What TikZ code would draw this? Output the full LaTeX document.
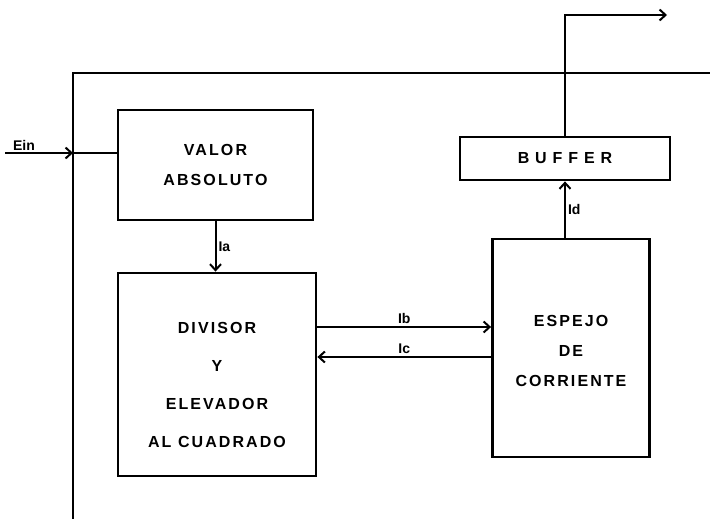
\documentclass[tikz,border=0pt]{standalone}
\usepackage{fontspec}
\setmainfont{Liberation Sans}
\newfontfamily\lettering[LetterSpace=13]{Liberation Sans Bold}
\newfontfamily\widelettering[LetterSpace=37]{Liberation Sans Bold}
\usetikzlibrary{arrows.meta,positioning}

\begin{document}
\begin{tikzpicture}[x=1pt,y=-1pt,
  every node/.style={font=\lettering\fontsize{16}{30}\selectfont},
  blockbox/.style={draw,line width=2.8pt,align=center,inner sep=0pt},
  tag/.style={font=\bfseries\fontsize{14}{16}\selectfont,inner sep=2pt},
  wire/.style={line width=2pt},
  sig/.style={wire,-{Straight Barb[length=6pt,width=11pt]}}]
\useasboundingbox (0,0) rectangle (710,519);
% marco del circuito
\draw[line width=2.8pt] (710,73) -- (73,73) -- (73,519);
% bloques
\node[blockbox,minimum width=195pt,minimum height=110pt] (valor) at (215.5,165) {VALOR\\ABSOLUTO};
\node[blockbox,minimum width=198pt,minimum height=203pt] (divisor) at (217,374.5) {\rule{0pt}{32pt}DIVISOR\\[8pt]Y\\[8pt]ELEVADOR\\[8pt]AL CUADRADO};
\node[blockbox,minimum width=157pt,minimum height=218pt] (espejo) at (571,348) {\rule{0pt}{18pt}ESPEJO\\DE\\CORRIENTE};
\node[blockbox,minimum width=210pt,minimum height=43pt,font=\widelettering\fontsize{16}{18}\selectfont] (buffer) at (565,158.5) {BUFFER};
% entrada y salida
\coordinate (ein) at (5,153);
\coordinate (entrada) at (73,153);
\coordinate (codo) at (565,15);
\coordinate (salida) at (667,15);
\draw[sig] (ein) -- node[tag,above,pos=0.28] {Ein} (entrada);
\draw[wire] (entrada) -- (entrada -| valor.west);
\draw[sig] (buffer.north) -- (codo) -- (salida);
% corrientes
\draw[sig] (valor.south) -- node[tag,right] {Ia} (valor.south |- divisor.north);
\draw[sig] ([yshift=47.5pt]divisor.east) -- node[tag,above] {Ib} ([yshift=21pt]espejo.west);
\draw[sig] ([yshift=-9pt]espejo.west) -- node[tag,above] {Ic} ([yshift=17.5pt]divisor.east);
\draw[sig] (buffer.south |- espejo.north) -- node[tag,right] {Id} (buffer.south);
\end{tikzpicture}
\end{document}
